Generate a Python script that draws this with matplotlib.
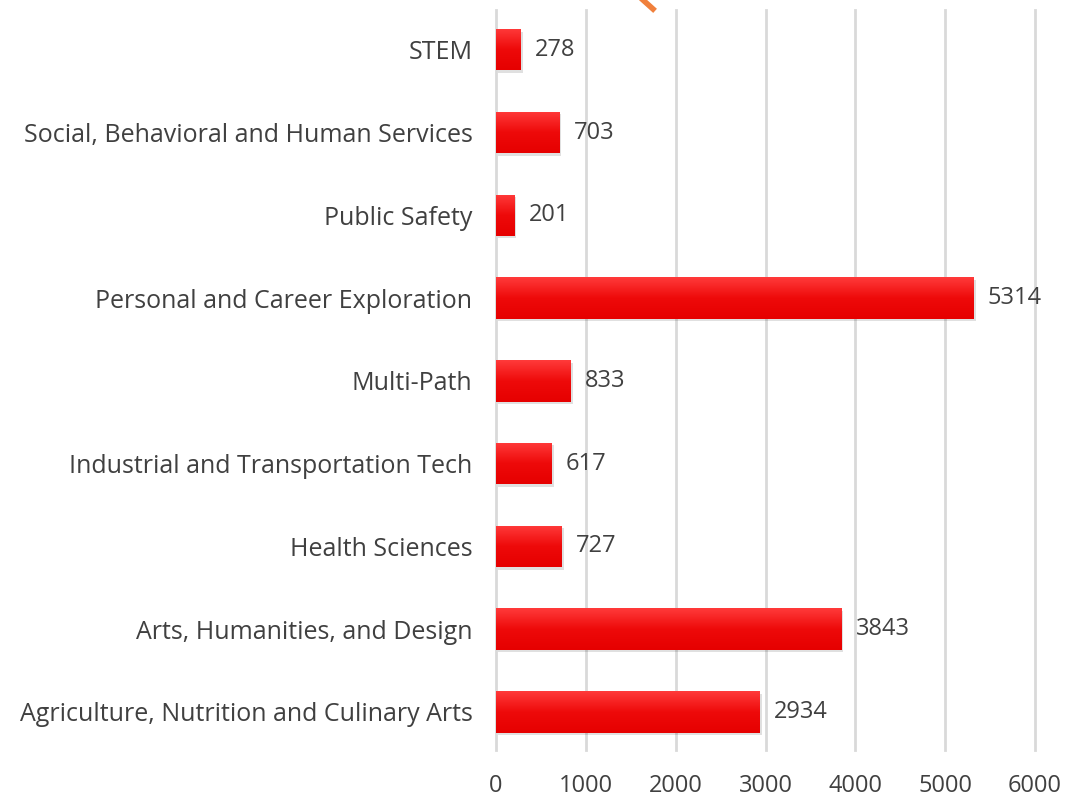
import numpy as np
import matplotlib.pyplot as plt
from matplotlib.colors import LinearSegmentedColormap
from matplotlib.lines import Line2D

# Data, bottom to top as drawn
categories = [
    "Agriculture, Nutrition and Culinary Arts",
    "Arts, Humanities, and Design",
    "Health Sciences",
    "Industrial and Transportation Tech",
    "Multi-Path",
    "Personal and Career Exploration",
    "Public Safety",
    "Social, Behavioral and Human Services",
    "STEM",
]
enrollments = [2934, 3843, 727, 617, 833, 5314, 201, 703, 278]
x_ticks = [0, 1000, 2000, 3000, 4000, 5000, 6000]

plt.rcParams['font.family'] = ['Open Sans', 'DejaVu Sans']
text_color = '#404040'

fig = plt.figure(figsize=(10.67, 8), dpi=100)
ax = fig.add_axes([496 / 1067, 0.0625, 539 / 1067, 0.925])

y = np.arange(len(categories))
bar_h = 0.5

# soft shadow behind bars
ax.barh(y - 0.03, enrollments, height=bar_h, left=25, color='#000000', alpha=0.12, zorder=2)
bars = ax.barh(y, enrollments, height=bar_h, color='#e80000', zorder=3)

# vertical gradient fill for each bar
grad = LinearSegmentedColormap.from_list('redgrad', ['#e60000', '#ee0a0a', '#ff3a3a'])
gimg = np.linspace(0, 1, 64).reshape(-1, 1)
for b in bars:
    x0, y0 = b.get_x(), b.get_y()
    w, h = b.get_width(), b.get_height()
    im = ax.imshow(gimg, cmap=grad, aspect='auto', origin='lower',
                   extent=[x0, x0 + w, y0, y0 + h], zorder=4)
    im.set_clip_path(b)

for yi, v in zip(y, enrollments):
    ax.text(v + 160, yi, str(v), va='center', ha='left', fontsize=17, color=text_color, zorder=5)

ax.set_xlim(0, 6000)
ax.set_ylim(-0.46, len(categories) - 0.52)
ax.set_xticks(x_ticks)
ax.set_yticks(y)
ax.set_yticklabels(categories, fontsize=18)
ax.tick_params(axis='both', length=0, labelcolor=text_color)
ax.tick_params(axis='x', labelsize=17, pad=17)
ax.tick_params(axis='y', pad=17)
ax.grid(axis='x', color='#d9d9d9', linewidth=2, zorder=0)
for gl in ax.get_xgridlines():
    gl.set_clip_on(False)
ax.set_axisbelow(True)
for s in ax.spines.values():
    s.set_visible(False)

# fragment of an orange arrow peeking in at the top
fig.add_artist(Line2D([643 / 1067, 653 / 1067], [1.0, 1 - 9 / 800],
                      transform=fig.transFigure, color='#f0803c', linewidth=4))

fig.savefig('out.png', dpi=100)
